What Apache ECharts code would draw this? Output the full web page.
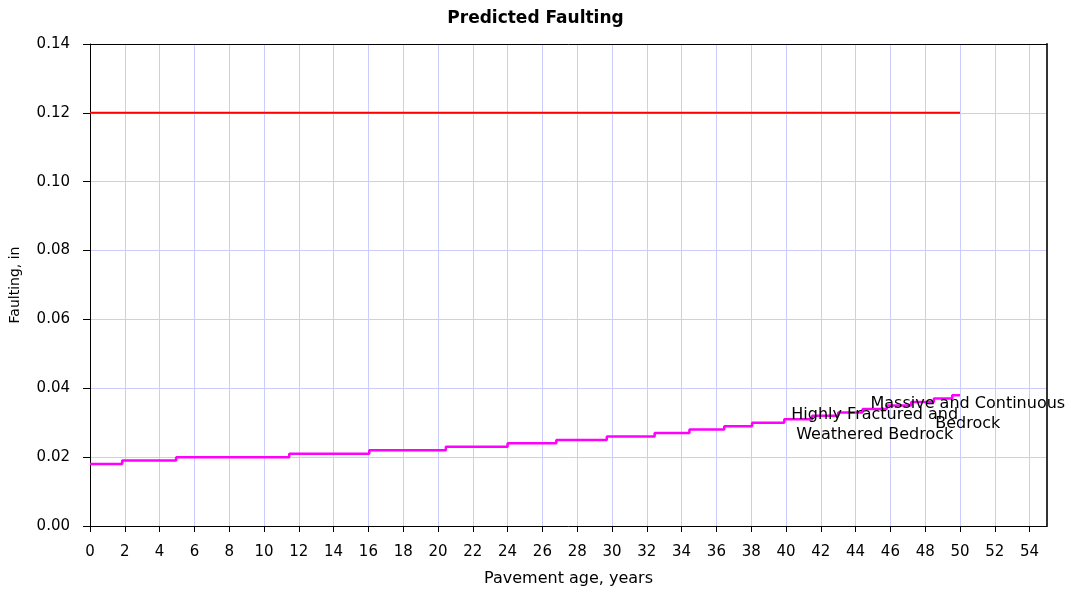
<!DOCTYPE html>
<html>
<head>
<meta charset="utf-8">
<script src="https://cdn.jsdelivr.net/npm/echarts@6/dist/echarts.min.js"></script>
<style>html,body{margin:0;padding:0;background:#fff;}#c{width:1071px;height:592px;}</style>
</head>
<body>
<div id="c"></div>
<script>
const stepYears = [0, 1.85, 4.95, 11.45, 16.05, 20.45, 24.0, 26.8, 29.7, 32.45, 34.45, 36.45, 38.05, 39.9, 41.5, 43.0, 44.4, 45.8, 47.2, 48.5, 49.55, 50];
const faultingValues = [0.018, 0.019, 0.020, 0.021, 0.022, 0.023, 0.024, 0.025, 0.026, 0.027, 0.028, 0.029, 0.030, 0.031, 0.032, 0.033, 0.034, 0.035, 0.036, 0.037, 0.038, 0.038];
const limitYears = [0, 50];
const limitValues = [0.12, 0.12];
const labelHighly = { text: 'Highly Fractured and\nWeathered Bedrock', x: 45.1, y: 0.0295 };
const labelMassive = { text: 'Massive and Continuous\nBedrock', x: 50.45, y: 0.0325 };

const font = '"DejaVu Sans", sans-serif';
const chart = echarts.init(document.getElementById('c'), null, { renderer: 'canvas' });
chart.setOption({
  animation: false,
  backgroundColor: '#fff',
  title: {
    text: 'Predicted Faulting', left: 'center', top: 5,
    textStyle: { fontFamily: font, fontSize: 17, fontWeight: 'bold', color: '#000' }
  },
  grid: { left: 89, right: 24, top: 44, bottom: 65 },
  xAxis: [{
    type: 'value', min: 0, max: 55, interval: 2,
    name: 'Pavement age, years', nameLocation: 'middle', nameGap: 45,
    nameTextStyle: { fontFamily: font, fontSize: 16, color: '#000' },
    axisLine: { show: true, onZero: false, lineStyle: { color: '#000' } },
    axisTick: { show: true, length: 6, lineStyle: { color: '#000' } },
    axisLabel: { fontFamily: font, fontSize: 15, color: '#000', margin: 19, showMaxLabel: false },
    splitLine: { show: true, lineStyle: { color: '#ccccff', width: 1 } }
  }, {
    type: 'value', position: 'top', min: 0, max: 55,
    axisLine: { show: true, onZero: false, lineStyle: { color: '#000' } },
    axisTick: { show: false }, axisLabel: { show: false }, splitLine: { show: false }
  }],
  yAxis: [{
    type: 'value', min: 0, max: 0.14, interval: 0.02,
    name: 'Faulting, in', nameLocation: 'middle', nameGap: 68,
    nameTextStyle: { fontFamily: font, fontSize: 14, color: '#000' },
    axisLine: { show: true, onZero: false, lineStyle: { color: '#000' } },
    axisTick: { show: true, length: 7, lineStyle: { color: '#000' } },
    axisLabel: { fontFamily: font, fontSize: 15, color: '#000', margin: 20, formatter: v => v.toFixed(2) },
    splitLine: { show: true, lineStyle: { color: '#ccccff', width: 1 } }
  }, {
    type: 'value', position: 'right', min: 0, max: 0.14,
    axisLine: { show: true, onZero: false, lineStyle: { color: '#333', width: 2 } },
    axisTick: { show: false }, axisLabel: { show: false }, splitLine: { show: false }
  }],
  series: [
    {
      type: 'line', step: 'end', showSymbol: false, symbol: 'none',
      data: stepYears.map((x, i) => [x, faultingValues[i]]),
      lineStyle: { color: '#ff00ff', width: 2.5 },
      z: 3,
      markPoint: {
        symbol: 'circle', symbolSize: 0,
        label: { show: true, position: 'inside', fontFamily: font, fontSize: 16, color: '#000', lineHeight: 20, align: 'center' },
        data: [
          { coord: [labelHighly.x, labelHighly.y], value: labelHighly.text, label: { formatter: labelHighly.text } },
          { coord: [labelMassive.x, labelMassive.y], value: labelMassive.text, label: { formatter: labelMassive.text } }
        ]
      }
    },
    {
      type: 'line', showSymbol: false, symbol: 'none',
      data: limitYears.map((x, i) => [x, limitValues[i]]),
      lineStyle: { color: '#ff0000', width: 2 }
    }
  ]
});
</script>
</body>
</html>
